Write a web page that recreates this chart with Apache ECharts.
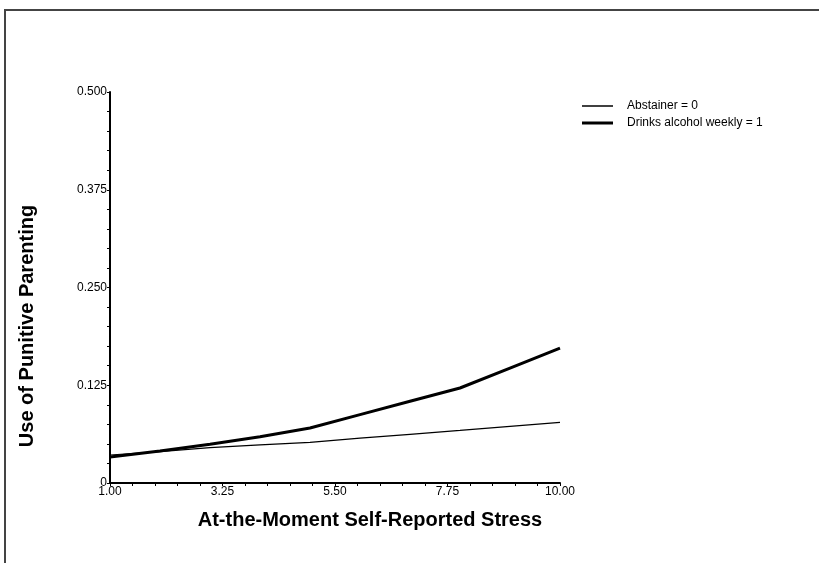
<!DOCTYPE html>
<html>
<head>
<meta charset="utf-8">
<script src="https://cdn.jsdelivr.net/npm/echarts@6/dist/echarts.min.js"></script>
<style>
  html, body { margin: 0; padding: 0; background: #fff; }
  #chart { width: 819px; height: 563px; }
</style>
</head>
<body>
<div id="chart"></div>
<script>
// Predicted punitive parenting by momentary stress, split by drinking status
const stressLevels = [1, 2, 3, 4, 5, 6, 7, 8, 9, 10];
const abstainer = [0.0358, 0.0400, 0.0452, 0.0487, 0.0520, 0.0573, 0.0623, 0.0673, 0.0725, 0.0776];
const drinksWeekly = [0.0333, 0.0410, 0.0495, 0.0592, 0.0703, 0.0874, 0.1045, 0.1215, 0.1470, 0.1726];

const xTickLabels = [1, 3.25, 5.5, 7.75, 10];
const yTickLabels = [0, 0.125, 0.25, 0.375, 0.5];
const seriesNames = ['Abstainer = 0', 'Drinks alcohol weekly = 1'];
const xTitle = 'At-the-Moment Self-Reported Stress';
const yTitle = 'Use of Punitive Parenting';

// x-axis ticks: five sub-steps between each labelled value
const xTickValues = [];
for (let i = 0; i < xTickLabels.length - 1; i++) {
  const a = xTickLabels[i], b = xTickLabels[i + 1];
  for (let k = 0; k < 5; k++) xTickValues.push(+(a + (b - a) * k / 5).toFixed(4));
}
xTickValues.push(xTickLabels[xTickLabels.length - 1]);

const pairs = vals => stressLevels.map((x, i) => [x, vals[i]]);
const font = 'Liberation Sans, Arial, sans-serif';
const lineWidths = [1.2, 3];

const chart = echarts.init(document.getElementById('chart'), null, { renderer: 'canvas' });
chart.setOption({
  animation: false,
  backgroundColor: '#fff',
  grid: { left: 110, right: 259, top: 92, bottom: 80, containLabel: false },
  legend: {
    orient: 'vertical',
    left: 582,
    top: 100,
    padding: 0,
    itemWidth: 31,
    itemHeight: 12,
    itemGap: 5,
    symbolKeepAspect: true,
    textStyle: { color: '#000', fontSize: 12, fontFamily: font, padding: [0, 0, 0, 9] },
    data: [
      { name: seriesNames[0], icon: 'path://M0,0L31,0L31,1.5L0,1.5Z',
        itemStyle: { color: '#000', borderWidth: 0 }, lineStyle: { width: 0 } },
      { name: seriesNames[1], icon: 'path://M0,0L31,0L31,3L0,3Z',
        itemStyle: { color: '#000', borderWidth: 0 }, lineStyle: { width: 0 } }
    ]
  },
  xAxis: {
    type: 'value',
    min: 1,
    max: 10,
    axisLine: { show: true, onZero: false, lineStyle: { color: '#000', width: 2 } },
    axisTick: { show: true, length: 3, customValues: xTickValues, lineStyle: { color: '#000', width: 1 } },
    axisLabel: {
      customValues: xTickLabels,
      color: '#000', fontSize: 12, fontFamily: font, margin: 3,
      formatter: v => v.toFixed(2)
    },
    splitLine: { show: false }
  },
  yAxis: {
    type: 'value',
    min: 0,
    max: 0.5,
    interval: 0.125,
    axisLine: { show: true, onZero: false, lineStyle: { color: '#000', width: 2 } },
    axisTick: { show: true, length: 3, lineStyle: { color: '#000', width: 1 } },
    minorTick: { show: true, splitNumber: 5, length: 3, lineStyle: { color: '#000', width: 1 } },
    axisLabel: {
      color: '#000', fontSize: 12, fontFamily: font, margin: 3,
      formatter: v => (v === 0 ? '0' : v.toFixed(3))
    },
    splitLine: { show: false }
  },
  series: [
    {
      name: seriesNames[0],
      type: 'line',
      data: pairs(abstainer),
      symbol: 'none',
      color: '#000',
      lineStyle: { color: '#000', width: lineWidths[0] }
    },
    {
      name: seriesNames[1],
      type: 'line',
      data: pairs(drinksWeekly),
      symbol: 'none',
      color: '#000',
      lineStyle: { color: '#000', width: lineWidths[1] }
    }
  ],
  graphic: [
    {
      type: 'rect',
      shape: { x: 5, y: 10, width: 900, height: 700 },
      style: { fill: 'none', stroke: '#444', lineWidth: 2 },
      silent: true
    },
    {
      type: 'text',
      x: 370, y: 520,
      style: {
        text: xTitle, fill: '#000', font: 'bold 20px ' + font,
        align: 'center', verticalAlign: 'middle'
      }
    },
    {
      type: 'text',
      x: 27, y: 326,
      rotation: Math.PI / 2,
      style: {
        text: yTitle, fill: '#000', font: 'bold 20px ' + font,
        align: 'center', verticalAlign: 'middle'
      }
    }
  ]
});
</script>
</body>
</html>
